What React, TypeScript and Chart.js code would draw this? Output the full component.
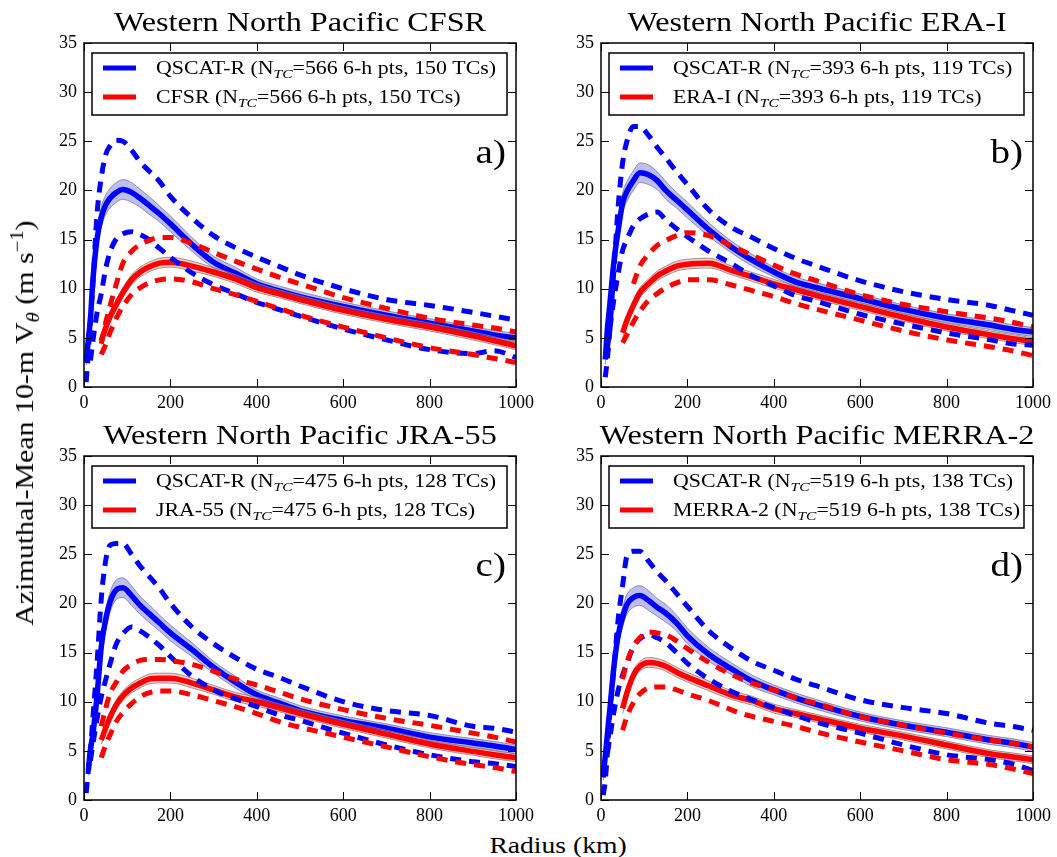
import React, { useEffect, useRef } from "react";
import { Chart, registerables } from "chart.js";

Chart.register(...registerables);

const N = null;

// Radius grid (km)
const RADIUS = [5, 10, 15, 20, 30, 40, 50, 60, 75, 90, 110, 130, 150, 175, 200, 250, 300, 350, 400, 450, 500, 600, 700, 800, 900, 950, 1000];

const X_TICKS = [0, 200, 400, 600, 800, 1000];
const Y_TICKS = [0, 5, 10, 15, 20, 25, 30, 35];

const TITLES = ["Western North Pacific CFSR", "Western North Pacific ERA-I", "Western North Pacific JRA-55", "Western North Pacific MERRA-2"];
const REANALYSES = ["CFSR", "ERA-I", "JRA-55", "MERRA-2"];
const N_TC = [566, 393, 475, 519];
const TC_COUNT = [150, 119, 128, 138];
const LETTERS = ["a)", "b)", "c)", "d)"];

// a) CFSR
const aBlue = [2.5, 4.8, 7.0, 10.5, 15.0, 17.3, 18.5, 19.2, 19.8, 20.1, 19.8, 19.2, 18.5, 17.6, 16.6, 14.5, 12.7, 11.6, 10.5, 9.8, 9.2, 8.2, 7.3, 6.5, 5.7, 5.3, 5.0];
const aRed = [N, N, N, N, N, 4.7, 6.0, 7.1, 8.4, 9.6, 10.9, 11.7, 12.2, 12.6, 12.7, 12.3, 11.7, 11.0, 10.1, 9.5, 8.9, 7.8, 6.9, 6.1, 5.2, 4.7, 4.2];
const aBlueHi = [0.5, 3.5, 7.0, 10.0, 17.5, 21.3, 23.6, 24.5, 25.1, 25.0, 24.1, 22.9, 22.0, 20.9, 19.4, 17.2, 15.4, 14.2, 13.2, 12.3, 11.4, 10.0, 8.9, 8.3, 7.6, 7.2, 6.8];
const aBlueLo = [N, N, 2.7, 4.5, 7.5, 9.5, 12.0, 13.7, 15.1, 15.6, 15.8, 15.5, 15.0, 14.1, 13.2, 11.6, 10.4, 9.5, 8.6, 7.9, 7.2, 5.9, 4.8, 3.8, 3.4, 3.7, 3.0];
const aRedHi = [N, N, N, N, N, 4.4, 6.5, 8.2, 10.5, 12.6, 13.8, 14.5, 14.9, 15.2, 15.2, 14.6, 13.7, 12.8, 12.0, 11.2, 10.5, 9.1, 8.0, 7.0, 6.3, 6.0, 5.6];
const aRedLo = [N, N, N, N, N, 3.3, 4.3, 5.5, 7.0, 8.2, 9.4, 10.1, 10.6, 10.9, 11.0, 10.7, 10.0, 9.4, 8.7, 8.0, 7.3, 6.1, 5.0, 4.0, 3.3, 2.9, 2.5];

// b) ERA-I
const bBlue = [N, 2.8, 6.0, 8.2, 12.8, 16.0, 18.7, 19.9, 21.0, 21.8, 21.6, 21.0, 20.0, 19.0, 18.0, 16.0, 14.3, 12.9, 11.7, 10.7, 10.1, 9.0, 7.9, 7.0, 6.3, 5.9, 5.6];
const bRed = [N, N, N, N, N, N, 5.5, 6.8, 8.3, 9.6, 10.5, 11.3, 11.8, 12.3, 12.5, 12.6, 11.9, 11.2, 10.5, 9.9, 9.3, 8.2, 7.1, 6.1, 5.3, 4.95, 4.6];
const bBlueHi = [N, 1.0, 3.0, 5.5, 12.0, 18.5, 22.8, 25.0, 26.5, 26.5, 25.6, 24.4, 23.3, 21.9, 20.6, 18.0, 16.3, 15.2, 14.1, 13.1, 12.3, 10.8, 9.7, 8.9, 8.3, 7.8, 7.3];
const bBlueLo = [N, N, 4.0, 5.7, 9.0, 11.6, 13.9, 15.0, 16.4, 17.1, 17.6, 17.8, 17.0, 16.1, 15.3, 13.8, 12.6, 11.3, 10.3, 9.3, 8.7, 7.4, 6.4, 5.5, 4.8, 4.4, 4.25];
const bRedHi = [N, N, N, N, N, N, N, N, 10.5, 12.3, 13.5, 14.4, 14.9, 15.4, 15.7, 15.4, 14.4, 13.4, 12.4, 11.5, 10.8, 9.4, 8.4, 7.65, 7.0, 6.6, 6.1];
const bRedLo = [N, N, N, N, N, N, 4.5, 5.3, 6.6, 7.7, 8.8, 9.5, 10.1, 10.6, 10.9, 10.9, 10.4, 9.8, 9.2, 8.5, 7.9, 6.8, 5.7, 4.8, 4.1, 3.7, 3.2];

// c) JRA-55
const cBlue = [N, 3.0, 5.2, 6.5, 10.5, 15.6, 18.3, 20.1, 21.4, 21.6, 20.8, 19.8, 19.0, 18.0, 17.0, 15.3, 13.5, 12.0, 10.7, 9.9, 9.1, 8.1, 7.3, 6.4, 5.8, 5.5, 5.15];
const cRed = [N, N, N, N, N, 6.1, 7.3, 8.4, 9.7, 10.6, 11.4, 11.9, 12.3, 12.4, 12.4, 11.9, 11.2, 10.5, 10.0, 9.4, 8.8, 7.7, 6.7, 5.7, 4.95, 4.6, 4.3];
const cBlueHi = [0.7, 3.0, 5.0, 8.0, 13.8, 20.5, 24.3, 25.9, 26.1, 26.1, 25.0, 23.8, 22.8, 21.5, 20.0, 17.6, 15.9, 14.5, 13.3, 12.5, 11.6, 10.0, 9.1, 8.6, 7.5, 7.3, 6.9];
const cBlueLo = [N, N, 4.0, 5.5, 8.2, 10.5, 12.2, 13.8, 15.9, 16.9, 17.6, 17.2, 16.6, 15.7, 14.6, 12.6, 11.2, 10.3, 9.5, 8.7, 8.1, 6.8, 5.6, 4.6, 3.9, 3.7, 3.4];
const cRedHi = [N, N, N, N, N, 7.5, 9.3, 10.8, 12.0, 13.1, 13.8, 14.2, 14.3, 14.3, 14.2, 13.8, 13.1, 12.3, 11.7, 11.0, 10.3, 9.2, 8.3, 7.6, 6.8, 6.4, 5.9];
const cRedLo = [N, N, N, N, N, 4.3, 5.6, 6.6, 8.0, 8.9, 9.8, 10.5, 10.9, 11.1, 11.1, 10.7, 10.1, 9.5, 8.8, 8.0, 7.4, 6.4, 5.4, 4.4, 3.6, 3.3, 2.9];

// d) MERRA-2
const dBlue = [2.3, 4.5, 6.8, 9.0, 13.6, 16.8, 18.6, 19.9, 20.6, 20.8, 20.3, 19.6, 19.0, 18.0, 16.7, 14.8, 13.4, 12.1, 11.2, 10.4, 9.7, 8.5, 7.6, 6.9, 6.1, 5.8, 5.4];
const dRed = [N, N, N, N, N, N, 9.3, 10.9, 12.7, 13.6, 14.0, 13.9, 13.6, 13.0, 12.5, 11.6, 10.7, 10.1, 9.3, 8.8, 8.3, 7.3, 6.5, 5.6, 4.7, 4.4, 4.1];
const dBlueHi = [0.5, 2.0, 5.0, 8.5, 13.5, 18.5, 21.8, 24.8, 25.3, 25.3, 24.3, 23.2, 22.3, 21.0, 19.7, 17.2, 15.5, 14.1, 13.2, 12.3, 11.6, 10.2, 9.4, 8.8, 7.8, 7.5, 7.1];
const dBlueLo = [N, N, 4.8, 6.2, 9.0, 11.2, 12.7, 13.9, 15.6, 16.4, 16.8, 16.5, 16.0, 15.0, 13.9, 12.3, 11.1, 10.2, 9.4, 8.6, 7.9, 6.8, 5.6, 4.6, 4.1, 3.7, 3.0];
const dRedHi = [N, N, N, N, N, N, 12.3, 14.0, 15.6, 16.5, 17.1, 17.0, 16.8, 16.2, 15.4, 14.0, 12.8, 11.9, 11.2, 10.4, 9.8, 8.5, 7.6, 6.8, 6.1, 5.8, 5.4];
const dRedLo = [N, N, N, N, N, N, 7.1, 8.5, 9.9, 10.8, 11.4, 11.5, 11.5, 11.2, 10.8, 10.1, 9.2, 8.5, 8.0, 7.5, 6.9, 5.9, 5.0, 4.1, 3.6, 3.2, 2.7];

// half-width of the shaded confidence bands
const blueSpread = [0.3, 0.5, 0.7, 0.8, 0.9, 1.0, 1.0, 1.0, 1.0, 1.0, 1.0, 0.9, 0.9, 0.8, 0.8, 0.7, 0.6, 0.6, 0.5, 0.5, 0.5, 0.45, 0.45, 0.45, 0.45, 0.45, 0.45];
const redSpread = [0.4, 0.4, 0.4, 0.4, 0.4, 0.4, 0.5, 0.5, 0.5, 0.5, 0.5, 0.5, 0.5, 0.5, 0.5, 0.5, 0.45, 0.45, 0.45, 0.4, 0.4, 0.4, 0.4, 0.4, 0.4, 0.4, 0.4];

const SERIES = [
  [aBlue, aRed, aBlueHi, aBlueLo, aRedHi, aRedLo],
  [bBlue, bRed, bBlueHi, bBlueLo, bRedHi, bRedLo],
  [cBlue, cRed, cBlueHi, cBlueLo, cRedHi, cRedLo],
  [dBlue, dRed, dBlueHi, dBlueLo, dRedHi, dRedLo],
];

// ---------- layout / style ----------
const FONT = '"Liberation Serif", "DejaVu Serif", serif';
const SX = 1.15; // horizontal stretch to mimic Computer Modern widths
const BLUE = "#0000ff";
const RED = "#ff0000";
const DASH = [11, 8];

const LAYOUT = [
  { x0: 30, y0: 0, x1: 545, y1: 420, left: 84, top: 43, right: 516, bottom: 387 },
  { x0: 547, y0: 0, x1: 1057, y1: 420, left: 601, top: 43, right: 1033, bottom: 387 },
  { x0: 30, y0: 413, x1: 545, y1: 830, left: 84, top: 456, right: 516, bottom: 800 },
  { x0: 547, y0: 413, x1: 1057, y1: 830, left: 601, top: 456, right: 1033, bottom: 800 },
];

type Part = { text: string; size: number; italic?: boolean; dy?: number };

function drawRich(ctx: CanvasRenderingContext2D, parts: Part[], x: number, y: number, align: string, sx: number) {
  ctx.save();
  ctx.textBaseline = "alphabetic";
  ctx.textAlign = "left";
  const widths = parts.map((p) => {
    ctx.font = `${p.italic ? "italic " : ""}${p.size}px ${FONT}`;
    return ctx.measureText(p.text).width;
  });
  const total = widths.reduce((a, b) => a + b, 0) * sx;
  const start = align === "center" ? x - total / 2 : align === "right" ? x - total : x;
  ctx.translate(start, y);
  ctx.scale(sx, 1);
  let off = 0;
  parts.forEach((p, i) => {
    ctx.font = `${p.italic ? "italic " : ""}${p.size}px ${FONT}`;
    ctx.fillText(p.text, off, p.dy || 0);
    off += widths[i];
  });
  ctx.restore();
}

function shift(mean: (number | null)[], spread: number[], sign: number) {
  return mean.map((v, i) => (v == null ? null : v + sign * spread[i]));
}

function pts(arr: (number | null)[]) {
  return RADIUS.map((x, i) => ({ x, y: arr[i] }));
}

function buildChart(canvas: HTMLCanvasElement, idx: number) {
  const L = LAYOUT[idx];
  const [blue, red, blueHi, blueLo, redHi, redLo] = SERIES[idx];
  const H = L.y1 - L.y0;
  const line = (data: any, color: string, width: number, dash: number[], order: number, extra: any = {}) => ({
    data: pts(data),
    borderColor: color,
    borderWidth: width,
    borderDash: dash,
    borderCapStyle: "butt",
    pointRadius: 0,
    fill: false,
    cubicInterpolationMode: "monotone",
    spanGaps: false,
    order,
    ...extra,
  });
  const edge = "rgba(125,125,125,0.8)";

  const decor = {
    id: "decor",
    afterDatasetsDraw(chart: any) {
      const ctx = chart.ctx as CanvasRenderingContext2D;
      const a = chart.chartArea;
      // legend box
      const bl = a.left + 8;
      const br = a.right - 9;
      const bt = a.top + 10;
      const bh = 62;
      ctx.save();
      ctx.fillStyle = "#fff";
      ctx.fillRect(bl, bt, br - bl, bh);
      ctx.strokeStyle = "#000";
      ctx.lineWidth = 1.5;
      ctx.strokeRect(bl, bt, br - bl, bh);
      const rows = [
        { color: BLUE, name: "QSCAT-R", y: bt + 15 },
        { color: RED, name: REANALYSES[idx], y: bt + 44 },
      ];
      rows.forEach((r) => {
        ctx.strokeStyle = r.color;
        ctx.lineWidth = 5;
        ctx.beginPath();
        ctx.moveTo(bl + 11, r.y);
        ctx.lineTo(bl + 44, r.y);
        ctx.stroke();
        ctx.fillStyle = "#000";
        drawRich(
          ctx,
          [
            { text: `${r.name} (N`, size: 19 },
            { text: "TC", size: 13.5, italic: true, dy: 4 },
            { text: `=${N_TC[idx]} 6-h pts, ${TC_COUNT[idx]} TCs)`, size: 19 },
          ],
          bl + 64,
          r.y + 6,
          "left",
          SX
        );
      });
      // panel letter
      ctx.fillStyle = "#000";
      drawRich(ctx, [{ text: LETTERS[idx], size: 34 }], a.right - 10, a.top + 120, "right", SX);
      ctx.restore();
    },
    afterDraw(chart: any) {
      const ctx = chart.ctx as CanvasRenderingContext2D;
      const a = chart.chartArea;
      const xs = chart.scales.x;
      const ys = chart.scales.y;
      ctx.save();
      ctx.strokeStyle = "#000";
      ctx.lineWidth = 1;
      const tl = 8;
      X_TICKS.forEach((v) => {
        const px = Math.round(xs.getPixelForValue(v)) + 0.5;
        ctx.beginPath();
        ctx.moveTo(px, a.bottom);
        ctx.lineTo(px, a.bottom - tl);
        ctx.moveTo(px, a.top);
        ctx.lineTo(px, a.top + tl);
        ctx.stroke();
      });
      Y_TICKS.forEach((v) => {
        const py = Math.round(ys.getPixelForValue(v)) + 0.5;
        ctx.beginPath();
        ctx.moveTo(a.left, py);
        ctx.lineTo(a.left + tl, py);
        ctx.moveTo(a.right, py);
        ctx.lineTo(a.right - tl, py);
        ctx.stroke();
      });
      ctx.lineWidth = 1.5;
      ctx.strokeRect(a.left, a.top, a.right - a.left, a.bottom - a.top);
      // title
      ctx.fillStyle = "#000";
      drawRich(ctx, [{ text: TITLES[idx], size: 28 }], (a.left + a.right) / 2, a.top - 12, "center", SX);
      ctx.restore();
    },
  };

  const tickFont = { family: FONT, size: 18 };

  return new Chart(canvas, {
    type: "line",
    data: {
      datasets: [
        line(shift(blue, blueSpread, 1), edge, 1, [], 7, { fill: "+1", backgroundColor: "rgba(110,110,235,0.45)" }),
        line(shift(blue, blueSpread, -1), edge, 1, [], 7),
        line(shift(red, redSpread, 1), edge, 1, [], 5, { fill: "+1", backgroundColor: "rgba(235,110,110,0.35)" }),
        line(shift(red, redSpread, -1), edge, 1, [], 5),
        line(blue, BLUE, 5.5, [], 6),
        line(red, RED, 5.5, [], 4),
        line(blueHi, BLUE, 5, DASH, 3),
        line(blueLo, BLUE, 5, DASH, 3),
        line(redHi, RED, 5, DASH, 2),
        line(redLo, RED, 5, DASH, 2),
      ] as any,
    },
    options: {
      responsive: false,
      animation: false,
      events: [],
      layout: { padding: { left: 0, top: L.top - L.y0, right: L.x1 - L.right, bottom: 0 } },
      plugins: { legend: { display: false }, title: { display: false }, tooltip: { enabled: false } },
      elements: { point: { radius: 0 } },
      scales: {
        x: {
          type: "linear",
          min: 0,
          max: 1000,
          ticks: { stepSize: 200, color: "#000", font: tickFont, padding: 5, maxRotation: 0, callback: (v: any) => String(v) },
          grid: { display: false, drawTicks: false },
          border: { display: false },
          afterFit: (s: any) => {
            s.height = H - (L.bottom - L.y0);
          },
        },
        y: {
          type: "linear",
          min: 0,
          max: 35,
          ticks: { stepSize: 5, color: "#000", font: tickFont, padding: 7, callback: (v: any) => String(v) },
          grid: { display: false, drawTicks: false },
          border: { display: false },
          afterFit: (s: any) => {
            s.width = L.left - L.x0;
          },
        },
      },
    } as any,
    plugins: [decor],
  });
}

function Panel({ idx }: { idx: number }) {
  const ref = useRef<HTMLCanvasElement>(null);
  const L = LAYOUT[idx];
  useEffect(() => {
    if (!ref.current) return;
    const chart = buildChart(ref.current, idx);
    return () => chart.destroy();
  }, [idx]);
  return (
    <canvas
      ref={ref}
      width={L.x1 - L.x0}
      height={L.y1 - L.y0}
      style={{ position: "absolute", left: L.x0, top: L.y0, width: L.x1 - L.x0, height: L.y1 - L.y0 }}
    />
  );
}

export default function App() {
  const label: React.CSSProperties = {
    position: "absolute",
    fontFamily: FONT,
    lineHeight: "30px",
    whiteSpace: "nowrap",
    color: "#000",
  };
  return (
    <div style={{ position: "absolute", left: 0, top: 0, width: 1057, height: 857, background: "#fff", overflow: "hidden" }}>
      {[0, 1, 2, 3].map((i) => (
        <Panel key={i} idx={i} />
      ))}
      <div style={{ ...label, fontSize: 26, left: 26, top: 423, transform: `translate(-50%, -50%) rotate(-90deg) scaleX(${SX})` }}>
        Azimuthal-Mean 10-m V
        <span style={{ fontSize: 18, fontStyle: "italic", position: "relative", top: 6 }}>θ</span> (m s
        <span style={{ fontSize: 18, position: "relative", top: -10 }}>−1</span>)
      </div>
      <div style={{ ...label, fontSize: 24, left: 558, top: 845, transform: `translate(-50%, -50%) scaleX(${SX})` }}>Radius (km)</div>
    </div>
  );
}
